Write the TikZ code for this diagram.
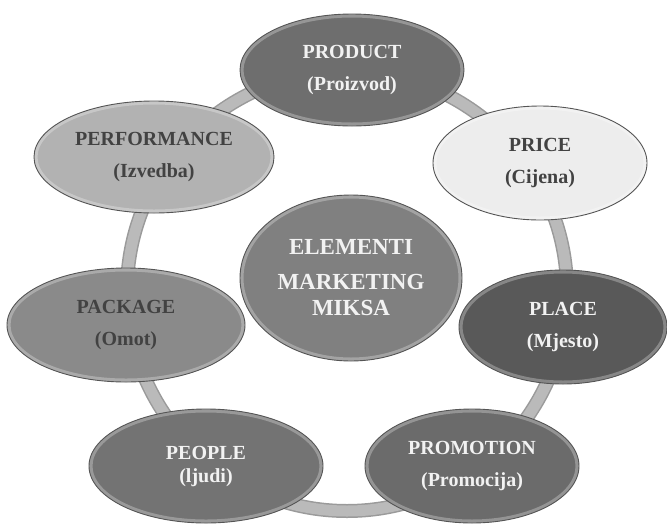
\documentclass[tikz,border=0pt]{standalone}
\usepackage{fontspec}
\setmainfont{Liberation Serif}
\usetikzlibrary{shapes.geometric,calc}
\definecolor{ringfill}{HTML}{BABABA}
\definecolor{ringedge}{HTML}{9A9A9A}
\definecolor{edgec}{HTML}{555555}
\definecolor{darktxt}{HTML}{424242}
\definecolor{lighttxt}{HTML}{F2F2F2}
\tikzset{
  bubble/.style={ellipse, inner sep=0pt, draw=edgec, line width=0.9pt,
    font=\bfseries\fontsize{20}{32}\selectfont, align=center,
    path picture={
      \draw[white, opacity=0.28, line width=5pt]
        let \p1=(path picture bounding box.north east),
            \p2=(path picture bounding box.center) in
        (\p2) ellipse [x radius={\x1-\x2-1pt}, y radius={\y1-\y2-1pt}];
    }},
}
\begin{document}
\begin{tikzpicture}[x=1pt,y=-1pt]
\useasboundingbox (0,0) rectangle (667,523);
\fill[white] (0,0) rectangle (667,523);
% ring
\node[circle, minimum size=440pt, inner sep=0pt] (ring) at (347,291) {};
\draw[ringedge, line width=14pt] (ring.center) circle[radius=220];
\draw[ringfill, line width=11pt] (ring.center) circle[radius=220];
% nodes
\node[bubble, fill=black!57, text=lighttxt, minimum width=224pt, minimum height=112pt] (product) at (352,70) {PRODUCT\\(Proizvod)};
\node[bubble, fill=black!7, text=darktxt, minimum width=214pt, minimum height=114pt] (price) at (540,163) {PRICE\\(Cijena)};
\node[bubble, fill=black!30, text=darktxt, minimum width=240pt, minimum height=112pt] (performance) at (154,157) {PERFORMANCE\\(Izvedba)};
\node[bubble, fill=black!50, text=lighttxt, minimum width=222pt, minimum height=166pt,
  font=\bfseries\fontsize{23}{31}\selectfont] (center) at (351,278) {ELEMENTI\\[4pt]MARKETING\\[-5pt]MIKSA};
\node[bubble, fill=black!46, text=darktxt, minimum width=238pt, minimum height=114pt] (package) at (126,325) {PACKAGE\\(Omot)};
\node[bubble, fill=black!65, text=lighttxt, minimum width=208pt, minimum height=114pt] (place) at (563,327) {PLACE\\(Mjesto)};
\node[bubble, fill=black!55, text=lighttxt, minimum width=234pt, minimum height=114pt,
  font=\bfseries\fontsize{20}{23}\selectfont] (people) at (206,466) {PEOPLE\\(ljudi)};
\node[bubble, fill=black!58, text=lighttxt, minimum width=214pt, minimum height=114pt] (promotion) at (472,466) {PROMOTION\\(Promocija)};
\end{tikzpicture}
\end{document}
